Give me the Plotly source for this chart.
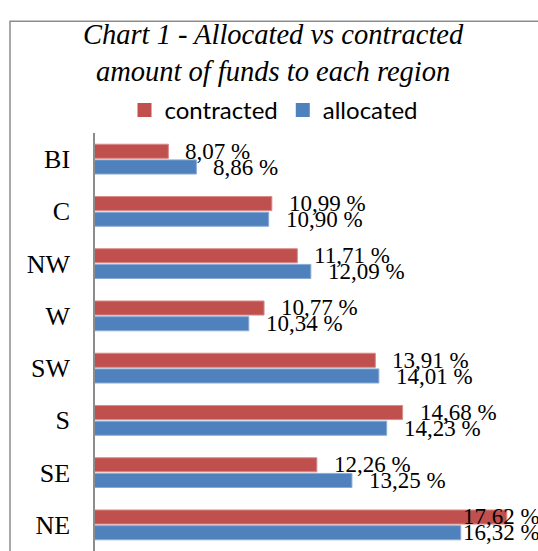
import plotly.graph_objects as go

# Regional shares of funds (%)
regions = ["BI", "C", "NW", "W", "SW", "S", "SE", "NE"]
contracted = [8.07, 10.99, 11.71, 10.77, 13.91, 14.68, 12.26, 17.62]
allocated = [8.86, 10.90, 12.09, 10.34, 14.01, 14.23, 13.25, 16.32]

RED = "#C0504D"
BLUE = "#4F81BD"
SERIF = "Liberation Serif, Times New Roman, serif"
SANS = "Lato, Liberation Sans, sans-serif"

W, H = 538, 551
ML, MR, MT, MB = 95, 0, 125, 0
X_MIN, X_MAX = 6, 18.5
LABEL_CAP = 15.9  # labels that would run off the right side are pulled back

pw = W - ML - MR
ph = H - MT - MB


def fmt(v):
    return f"{v:.2f}".replace(".", ",") + " %"


def px_x(p):
    return (p - ML) / pw


def px_y(p):
    return (H - MB - p) / ph


fig = go.Figure()
fig.add_trace(go.Bar(
    name="contracted", y=regions, x=contracted, orientation="h",
    marker=dict(color=RED, line=dict(color="#D98C8A", width=1)),
    hoverinfo="x+y", showlegend=False,
))
fig.add_trace(go.Bar(
    name="allocated", y=regions, x=allocated, orientation="h",
    marker=dict(color=BLUE, line=dict(color="#8AAAD6", width=1)),
    hoverinfo="x+y", showlegend=False,
))
# legend entries with larger square swatches
for name, color in (("contracted", RED), ("allocated", BLUE)):
    fig.add_trace(go.Scatter(
        x=[None], y=[None], mode="markers", name=name,
        marker=dict(symbol="square", size=14, color=color),
        showlegend=True,
    ))

annotations = []
for series, shift in ((contracted, 8), (allocated, -8)):
    for r, v in zip(regions, series):
        annotations.append(dict(
            x=min(v, LABEL_CAP), y=r, xref="x", yref="y",
            text=fmt(v), showarrow=False, xanchor="left", yanchor="middle",
            xshift=15, yshift=shift,
            font=dict(family=SERIF, size=23, color="#000000"),
        ))

annotations.append(dict(
    text="<i>Chart 1 - Allocated vs contracted<br>amount of funds to each region</i>",
    xref="paper", yref="paper", x=px_x(273), y=px_y(43),
    xanchor="center", yanchor="middle", showarrow=False,
    font=dict(family=SERIF, size=28.5, color="#000000"),
))

fig.add_shape(
    type="rect", xref="paper", yref="paper",
    x0=px_x(10), x1=1.05, y0=-0.05, y1=px_y(11),
    line=dict(color="#8C8C8C", width=1.5), fillcolor="rgba(0,0,0,0)",
    layer="below",
)

fig.update_layout(
    width=W, height=H,
    margin=dict(l=ML, r=MR, t=MT, b=MB),
    paper_bgcolor="white", plot_bgcolor="white",
    barmode="group", bargap=0.4, bargroupgap=0.1,
    legend=dict(
        orientation="h", x=274 / W, xanchor="center", xref="container",
        y=1 - 88 / H, yanchor="top", yref="container",
        font=dict(family=SANS, size=24, color="#000000"),
        traceorder="normal",
    ),
    xaxis=dict(range=[X_MIN, X_MAX], visible=False, fixedrange=True),
    yaxis=dict(
        categoryorder="array", categoryarray=regions, autorange="reversed",
        showline=True, linecolor="#8C8C8C", linewidth=1.5,
        ticks="", showgrid=False, zeroline=False,
        tickfont=dict(family=SERIF, size=26, color="#000000"),
        ticklabelstandoff=18,
    ),
    annotations=annotations,
    showlegend=True,
)

fig.write_html("out.html")
